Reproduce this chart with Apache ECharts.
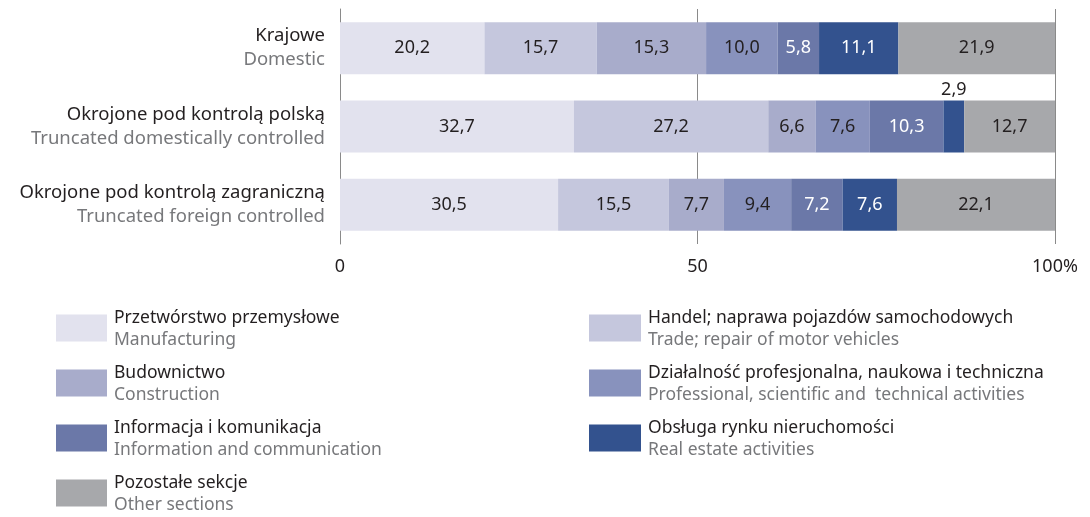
<!DOCTYPE html>
<html>
<head>
<meta charset="utf-8">
<script src="https://cdn.jsdelivr.net/npm/echarts@6/dist/echarts.min.js"></script>
<style>
  html, body { margin: 0; padding: 0; background: #ffffff; }
  #chart { width: 1090px; height: 517px; }
</style>
</head>
<body>
<div id="chart"></div>
<script>
// kategorie (osie Y)
var categoriesPl = ['Krajowe', 'Okrojone pod kontrolą polską', 'Okrojone pod kontrolą zagraniczną']
var categoriesEn = ['Domestic', 'Truncated domestically controlled', 'Truncated foreign controlled']

// sekcje
var sectionsPl = ['Przetwórstwo przemysłowe', 'Handel; naprawa pojazdów samochodowych', 'Budownictwo',
  'Działalność profesjonalna, naukowa i techniczna', 'Informacja i komunikacja',
  'Obsługa rynku nieruchomości', 'Pozostałe sekcje']
var sectionsEn = ['Manufacturing', 'Trade; repair of motor vehicles', 'Construction',
  'Professional, scientific and  technical activities', 'Information and communication',
  'Real estate activities', 'Other sections']

// wartości w % (kolejno: Krajowe, Okrojone polskie, Okrojone zagraniczne)
var manufacturing = [20.2, 32.7, 30.5]
var trade = [15.7, 27.2, 15.5]
var construction = [15.3, 6.6, 7.7]
var professional = [10.0, 7.6, 9.4]
var information = [5.8, 10.3, 7.2]
var realEstate = [11.1, 2.9, 7.6]
var other = [21.9, 12.7, 22.1]

var xTicks = ['0', '50', '100%']

var seriesValues = [manufacturing, trade, construction, professional, information, realEstate, other]
var colors = ['#E2E2EE', '#C5C7DD', '#A8ACCB', '#8892BD', '#6B78A8', '#33528E', '#A7A8AB']
var whiteLabel = [false, false, false, false, true, true, false]

var fontFamily = '"Noto Sans", "Open Sans", sans-serif'

var series = seriesValues.map(function (vals, i) {
  return {
    name: sectionsPl[i],
    type: 'bar',
    stack: 'total',
    barWidth: 52,
    itemStyle: { color: colors[i] },
    label: {
      show: true,
      position: 'inside',
      fontFamily: fontFamily,
      fontSize: 18,
      color: whiteLabel[i] ? '#ffffff' : '#231f20',
      formatter: function (p) { return p.value.toFixed(1).replace('.', ',') }
    },
    data: vals.map(function (v) {
      if (v < 4) {
        // za wąski słupek - etykieta nad nim
        return { value: v, label: { position: 'top', distance: 2, color: '#231f20' } }
      }
      return v
    })
  }
})

var legendRich = {
  pl: { fontFamily: fontFamily, fontSize: 17.5, color: '#231f20', lineHeight: 24, padding: [4, 0, 0, 0] },
  en: { fontFamily: fontFamily, fontSize: 17.5, color: '#77787b', lineHeight: 24 }
}
function legendFormatter(name) {
  var i = sectionsPl.indexOf(name)
  return '{pl|' + name + '}\n{en|' + sectionsEn[i] + '}'
}

var chart = echarts.init(document.getElementById('chart'))
chart.setOption({
  animation: false,
  grid: { left: 340, right: 35, top: 9, height: 235 },
  xAxis: {
    type: 'value',
    min: 0,
    max: 100,
    interval: 50,
    axisLine: { show: false },
    axisTick: { show: false },
    splitLine: { show: true, lineStyle: { color: '#8a8a8a', width: 1 } },
    axisLabel: {
      margin: 14,
      fontFamily: fontFamily,
      fontSize: 18,
      color: '#231f20',
      formatter: function (v) { return xTicks[Math.round(v / 50)] }
    }
  },
  yAxis: {
    type: 'category',
    inverse: true,
    data: categoriesPl,
    axisLine: { show: true, lineStyle: { color: '#8a8a8a', width: 1 } },
    axisTick: { show: false },
    axisLabel: {
      margin: 15,
      align: 'right',
      formatter: function (v, i) { return '{pl|' + v + '}\n{en|' + categoriesEn[i] + '}' },
      rich: {
        pl: { fontFamily: fontFamily, fontSize: 18.5, color: '#231f20', lineHeight: 24, align: 'right' },
        en: { fontFamily: fontFamily, fontSize: 18.5, color: '#77787b', lineHeight: 24, align: 'right' }
      }
    }
  },
  legend: [
    {
      data: [sectionsPl[0], sectionsPl[2], sectionsPl[4], sectionsPl[6]],
      orient: 'vertical',
      left: 51,
      top: 300,
      width: 480,
      height: 260,
      itemWidth: 51,
      itemHeight: 27,
      itemGap: 11,
      icon: 'rect',
      selectedMode: false,
      formatter: legendFormatter,
      textStyle: { rich: legendRich, padding: [0, 0, 0, 2] }
    },
    {
      data: [sectionsPl[1], sectionsPl[3], sectionsPl[5]],
      orient: 'vertical',
      left: 584,
      top: 300,
      width: 500,
      height: 260,
      itemWidth: 52,
      itemHeight: 27,
      itemGap: 11,
      icon: 'rect',
      selectedMode: false,
      formatter: legendFormatter,
      textStyle: { rich: legendRich, padding: [0, 0, 0, 2] }
    }
  ],
  series: series
})
</script>
</body>
</html>
